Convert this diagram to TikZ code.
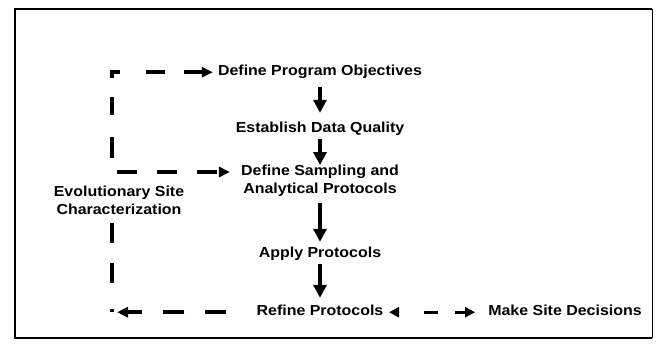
\documentclass[tikz,border=0pt]{standalone}
\usepackage{fontspec}
\newfontfamily\diafont{Liberation Sans}[FakeStretch=1.1]
\usetikzlibrary{arrows.meta}
\begin{document}
\begin{tikzpicture}[x=1pt,y=-1pt,
  lbl/.style={font=\diafont\bfseries\fontsize{14.5}{18}\selectfont, inner sep=0pt},
  one/.style={lbl, anchor=base, text height=10.5pt, text depth=3pt},
  flow/.style={line width=4pt, -{Triangle[length=13pt,width=13pt]}},
  loopline/.style={line width=3.5pt, dash pattern=on 20pt off 20pt},
  loophead/.style={-{Triangle[length=11pt,width=10pt]}},
  twohead/.style={line width=3pt, {Triangle[length=10pt,width=10pt]}-{Triangle[length=10pt,width=10pt]}},
]
\useasboundingbox (0,0) rectangle (656,352);
% frame
\draw[line width=2.5pt] (652,9) -- (15,9) -- (15,338) -- (652,338);
\draw[line width=1pt] (652,9) -- (652,338);

% nodes
\node[one] (defprog) at (320,76) {Define Program Objectives};
\node[one] (estab) at (320,133) {Establish Data Quality};
\node[lbl, align=center] (defsamp) at (320,181) {Define Sampling and\\Analytical Protocols};
\node[one] (apply) at (320,258) {Apply Protocols};
\node[one] (refine) at (320,316) {Refine Protocols};
\node[one] (make) at (565,316) {Make Site Decisions};

\coordinate (leftx) at (112,0);
\coordinate (topcorner) at (defprog.west -| leftx);
\coordinate (botcorner) at (refine.west -| leftx);
\coordinate (midcorner) at (112,172);

% main flow
\draw[flow, shorten <=8pt, shorten >=9.5pt] (defprog.south) -- (estab.north);
\draw[flow, shorten <=3pt, shorten >=0pt] (estab.south) -- (defsamp.north);
\draw[flow, shorten <=6pt, shorten >=5.5pt] (defsamp.south) -- (apply.north);
\draw[flow, shorten <=3pt, shorten >=7.5pt] (apply.south) -- (refine.north);

% evolutionary loop
\draw[loopline, loophead,
  dash pattern=on 3pt off 26pt on 20pt off 20pt on 20pt off 65pt on 21pt off 22pt on 18pt off 19pt on 14pt off 26pt on 19pt off 19pt on 60pt off 10pt,
  shorten >=5pt] (botcorner) -- (topcorner) -- (defprog.west);
\draw[loopline, loophead, dash phase=35pt, shorten >=11pt] (midcorner) -- (midcorner -| defsamp.west);
\draw[loopline, loophead, dash pattern=on 21pt off 21pt, dash phase=21pt, shorten <=9pt, shorten >=5pt] (refine.west) -- (botcorner);
\draw[twohead, dash pattern=on 14pt off 17pt on 40pt off 26pt, dash phase=71pt, shorten <=5.5pt, shorten >=13pt] (refine.east) -- (make.west);

\node[lbl, align=center, fill=white, inner sep=2pt] (evol) at (119,200) {Evolutionary Site\\Characterization};
\end{tikzpicture}
\end{document}
